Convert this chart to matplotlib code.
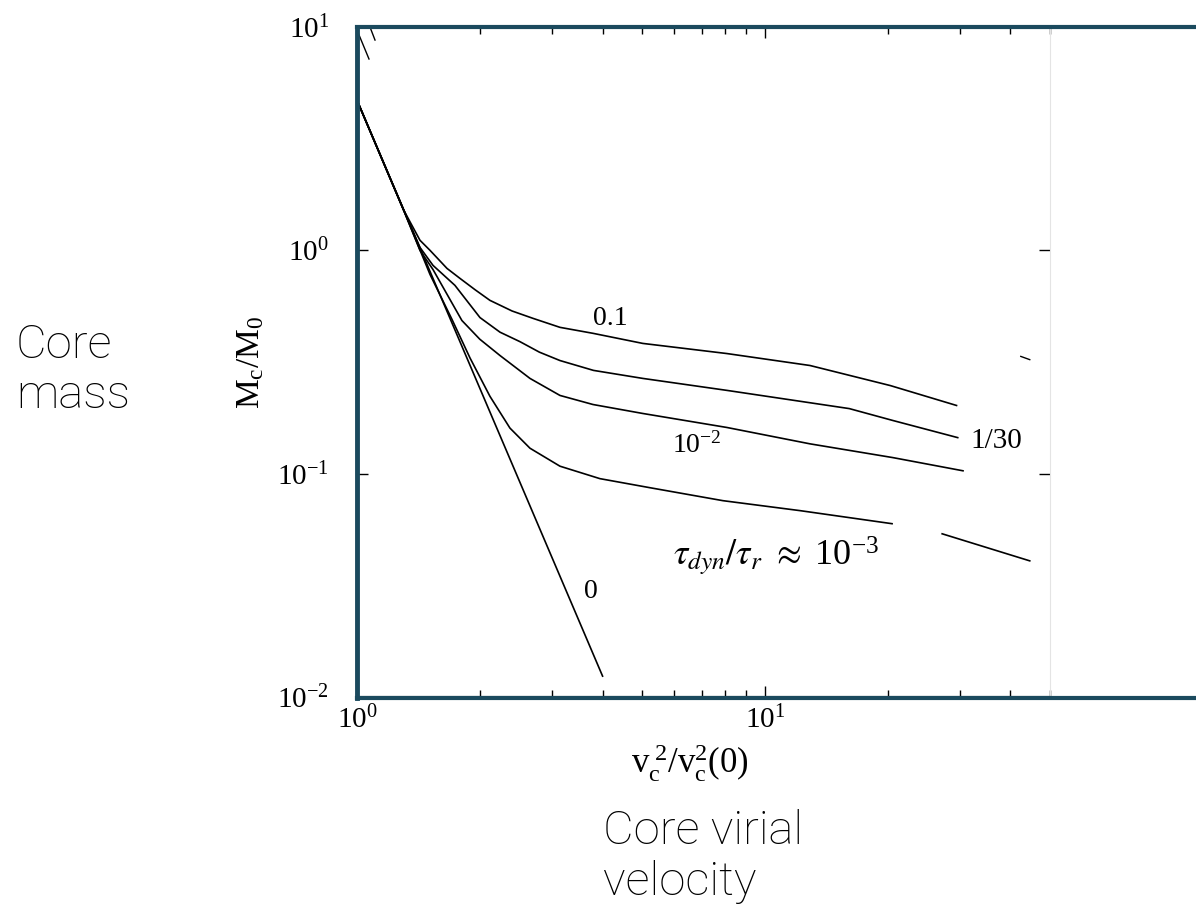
import numpy as np
import matplotlib
matplotlib.use('Agg')
from matplotlib import pyplot as plt
from matplotlib.ticker import NullLocator, LogLocator

plt.rcParams['font.family'] = ['Liberation Serif', 'DejaVu Serif']
plt.rcParams['mathtext.fontset'] = 'stix'

# curves (v_c^2/v_c^2(0), M_c/M_0)
x_zero = [1.0, 4.0]
y_zero = [4.7, 0.0124]

x_01 = [1.0, 1.3, 1.427, 1.51, 1.662, 1.788, 1.95, 2.118, 2.40, 2.70, 3.145, 3.79, 5.02, 8.07, 12.9, 20.3, 29.5]
y_01 = [4.7, 1.52, 1.109, 1.0, 0.83, 0.749, 0.665, 0.597, 0.535, 0.496, 0.452, 0.425, 0.383, 0.345, 0.305, 0.248, 0.202]

x_130 = [1.0, 1.3, 1.427, 1.536, 1.738, 2.002, 2.242, 2.509, 2.80, 3.145, 3.8, 5.02, 8.07, 16.1, 20.6, 29.7]
y_130 = [4.7, 1.52, 1.03, 0.856, 0.697, 0.50, 0.43, 0.39, 0.35, 0.321, 0.29, 0.267, 0.236, 0.1956, 0.173, 0.145]

x_1e2 = [1.0, 1.3, 1.427, 1.536, 1.808, 2.0, 2.242, 2.655, 3.145, 3.79, 5.02, 8.07, 12.9, 20.6, 30.6]
y_1e2 = [4.7, 1.52, 1.0, 0.82, 0.485, 0.40, 0.338, 0.267, 0.224, 0.204, 0.186, 0.161, 0.136, 0.118, 0.103]

x_1e3 = [1.0, 1.3, 1.51, 1.71, 1.892, 2.118, 2.371, 2.655, 3.145, 3.94, 5.23, 7.89, 12.2, 20.5, np.nan, 27.2, 44.6]
y_1e3 = [4.7, 1.52, 0.78, 0.49, 0.33, 0.222, 0.16, 0.13, 0.108, 0.095, 0.0865, 0.0757, 0.0683, 0.0597, np.nan, 0.0538, 0.0407]

# stray fragments near the frame
frag_x = [[1.0, 1.07], [1.076, 1.107], [42.4, 44.6]]
frag_y = [[9.69, 7.19], [10.0, 8.74], [0.335, 0.324]]

labels = ['0.1', '1/30', r'$\mathregular{10^{-2}}$', '0', r'$\tau_{dyn}/\tau_r\ \approx\ \mathregular{10^{-3}}$']
label_x = [4.17, 37.0, 6.81, 3.745, 10.64]
label_y = [0.496, 0.1406, 0.1336, 0.0296, 0.0428]
label_size = [20, 21, 20, 20, 26]

fig = plt.figure(figsize=(11.96, 9.08), dpi=100)
ax = fig.add_axes([357/1196, 1-697/908, 693/1196, 670/908])

lw = 1.2
ax.plot(x_zero, y_zero, color='black', lw=lw)
ax.plot(x_01, y_01, color='black', lw=lw)
ax.plot(x_130, y_130, color='black', lw=lw)
ax.plot(x_1e2, y_1e2, color='black', lw=lw)
ax.plot(x_1e3, y_1e3, color='black', lw=lw)
for fx, fy in zip(frag_x, frag_y):
    ax.plot(fx, fy, color='black', lw=1.0)

for t, tx, ty, fs in zip(labels, label_x, label_y, label_size):
    ax.text(tx, ty, t, fontsize=fs, ha='center', va='center')

ax.set_xscale('log')
ax.set_yscale('log')
ax.set_xlim(1, 50)
ax.set_ylim(0.01, 10)
ax.yaxis.set_major_locator(LogLocator(base=10, numticks=10))
ax.yaxis.set_minor_locator(NullLocator())

ax.tick_params(which='both', direction='in', top=True, right=True, labelsize=21)
ax.tick_params(which='major', length=8, width=1.0)
ax.tick_params(which='minor', length=5, width=1.0)
ax.tick_params(axis='y', pad=20)
ax.tick_params(axis='x', pad=6)

ax.set_xlabel(r'$\mathregular{v_c^{\ 2}/v^2_c(0)}$', fontsize=25)
ax.xaxis.set_label_coords(0.48, -0.068)
ax.set_ylabel(r'$\mathregular{M_c/M_0}$', fontsize=24, labelpad=8)

for s in ['top', 'bottom', 'left']:
    ax.spines[s].set_color('black')
    ax.spines[s].set_linewidth(1.5)
ax.spines['right'].set_color('#e4e4e4')
ax.spines['right'].set_linewidth(0.8)

# teal slide frame on top of the plot box
teal = '#1b4a5e'
ax.plot([0, 1.211], [1, 1], transform=ax.transAxes, color=teal, lw=3, clip_on=False, zorder=5)
ax.plot([0, 1.211], [-0.002, -0.002], transform=ax.transAxes, color=teal, lw=3, clip_on=False, zorder=5)
ax.plot([0, 0], [-0.002, 1], transform=ax.transAxes, color=teal, lw=3.5, clip_on=False, zorder=5)

# slide captions
fig.text(16/1196, 1-370/908, 'Core\nmass', fontsize=34, family='Roboto', fontweight='light',
         ha='left', va='center', linespacing=1.2)
fig.text(603/1196, 1-856/908, 'Core virial\nvelocity', fontsize=34, family='Roboto', fontweight='light',
         ha='left', va='center', linespacing=1.2)

plt.savefig('out.png', dpi=100)
